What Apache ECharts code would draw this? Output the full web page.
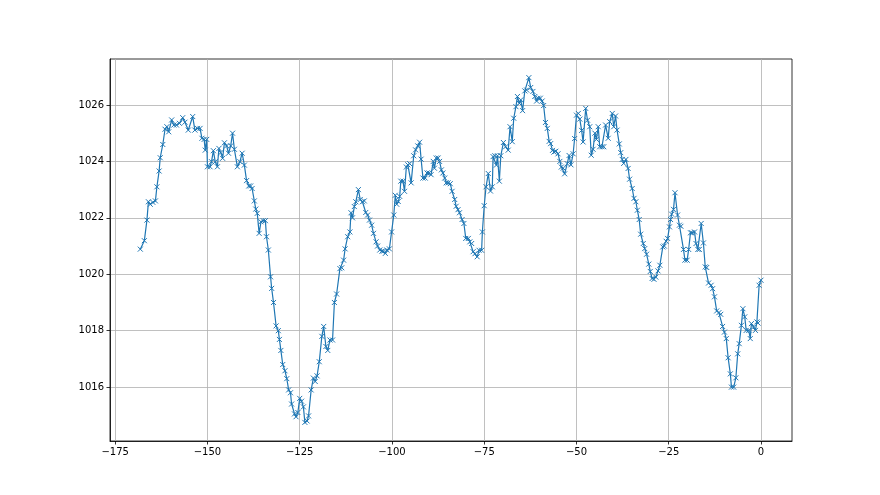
<!DOCTYPE html>
<html>
<head>
<meta charset="utf-8">
<script src="https://cdn.jsdelivr.net/npm/echarts@6/dist/echarts.min.js"></script>
<style>html,body{margin:0;padding:0;background:#fff;}#c{width:880px;height:495px;}</style>
</head>
<body>
<div id="c"></div>
<script>
const xs = [-168.2,-167.1,-166.4,-166.0,-165.5,-164.8,-164.1,-163.7,-163.1,-162.8,-162.1,-161.5,-161.0,-160.5,-159.7,-159.1,-158.4,-157.6,-156.7,-156.1,-155.2,-154.0,-153.4,-152.7,-152.0,-151.5,-150.9,-150.6,-150.2,-150.0,
-149.3,-148.9,-148.4,-147.9,-147.3,-146.9,-146.4,-145.9,-145.4,-144.8,-144.3,-143.7,-143.2,-142.7,-141.9,-141.2,-140.6,-140.0,-139.4,-138.8,-138.3,-137.9,-137.3,-136.9,-136.5,-136.0,-135.5,-134.9,-134.3,-134.0,-133.5,-132.9,
-132.6,-132.1,-131.4,-130.8,-130.5,-130.1,-129.6,-129.0,-128.5,-128.0,-127.5,-127.2,-126.4,-126.0,-125.5,-125.0,-124.5,-124.0,-123.6,-123.0,-122.6,-121.9,-121.3,-120.8,-120.3,-119.7,-119.0,-118.5,-117.9,-117.4,-116.8,-116.1,
-115.6,-115.0,-114.1,-113.6,-113.1,-112.7,-112.0,-111.4,-111.1,-110.7,-110.2,-109.8,-109.1,-108.6,-108.0,-107.5,-107.1,-106.6,-106.1,-105.5,-105.0,-104.3,-103.9,-103.3,-102.7,-102.3,-101.8,-101.4,-100.7,-100.1,-99.5,
-99.1,-98.7,-98.3,-97.9,-97.6,-97.0,-96.6,-96.1,-95.7,-95.2,-94.8,-94.1,-93.6,-93.0,-92.5,-92.1,-91.6,-91.0,-90.5,-90.0,-89.4,-88.8,-88.5,-88.0,-87.5,-87.1,-86.6,-86.2,-85.7,-85.3,-84.8,-84.2,-83.7,-83.0,-82.6,-82.1,-81.7,-81.0,
-80.5,-80.0,-79.3,-78.9,-78.4,-78.0,-77.5,-76.9,-76.4,-75.7,-75.5,-75.0,-74.5,-73.9,-73.3,-72.8,-72.6,-72.1,-71.7,-71.4,-70.9,-70.5,-69.8,-69.2,-68.5,-68.0,-67.4,-67.0,-66.4,-66.0,-65.5,-65.1,-64.6,-64.0,-63.5,-62.9,-62.4,
-61.8,-61.3,-60.8,-60.4,-59.8,-59.3,-58.9,-58.4,-57.9,-57.4,-57.0,-56.5,-56.1,-55.6,-55.0,-54.5,-54.1,-53.6,-53.2,-52.5,-52.0,-51.5,-50.9,-50.5,-50.0,-49.5,-49.1,-48.6,-48.2,-47.5,-47.0,-46.4,-46.0,-45.5,-45.0,-44.6,-44.1,
-43.7,-43.1,-42.6,-42.1,-41.4,-41.0,-40.3,-39.9,-39.4,-39.0,-38.4,-38.0,-37.6,-37.2,-36.6,-36.0,-35.6,-34.9,-34.4,-33.9,-33.5,-33.0,-32.6,-31.9,-31.5,-31.0,-30.4,-30.0,-29.5,-29.0,-28.5,-27.9,-27.4,-26.6,-26.2,-25.7,-25.3,
-24.8,-24.5,-24.2,-23.7,-23.3,-22.6,-22.1,-21.7,-21.0,-20.6,-20.0,-19.6,-19.1,-18.7,-18.0,-17.6,-17.1,-16.7,-16.2,-15.6,-15.1,-14.7,-14.2,-13.5,-13.1,-12.6,-12.0,-11.4,-10.9,-10.4,-9.9,-9.4,-8.9,-8.3,-8.0,-7.4,-6.8,-6.3,
-5.9,-5.3,-4.9,-4.4,-4.0,-3.3,-2.9,-2.6,-2.0,-1.5,-1.1,-0.8,-0.5,0.0];
const pressure = [1020.89,1021.19,1021.92,1022.57,1022.48,1022.55,1022.60,1023.10,1023.66,1024.13,1024.60,1025.14,1025.23,1025.05,1025.47,1025.29,1025.29,1025.35,1025.55,1025.39,1025.11,1025.59,1025.11,1025.17,1025.17,1024.82,1024.78,1024.40,1024.78,1023.81,
1023.81,1023.99,1024.38,1023.99,1023.81,1024.46,1024.31,1024.11,1024.66,1024.55,1024.29,1024.55,1025.00,1024.43,1023.81,1023.99,1024.29,1023.87,1023.32,1023.13,1023.13,1023.04,1022.60,1022.31,1022.16,1021.45,1021.86,1021.90,1021.90,1021.33,1020.86,1019.91,
1019.50,1019.00,1018.17,1018.00,1017.69,1017.30,1016.80,1016.58,1016.30,1015.90,1015.80,1015.40,1015.05,1014.95,1015.10,1015.60,1015.50,1015.30,1014.75,1014.80,1014.98,1015.90,1016.32,1016.20,1016.40,1016.90,1017.80,1018.15,1017.44,1017.30,1017.67,1017.67,
1019.00,1019.30,1020.20,1020.23,1020.50,1020.90,1021.33,1021.50,1022.18,1022.00,1022.40,1022.57,1023.00,1022.65,1022.57,1022.60,1022.19,1022.10,1021.92,1021.74,1021.45,1021.15,1021.00,1020.86,1020.82,1020.82,1020.74,1020.86,1020.90,1021.50,1022.10,
1022.80,1022.48,1022.58,1022.76,1023.30,1023.30,1022.94,1023.80,1023.88,1023.92,1023.24,1024.20,1024.41,1024.55,1024.68,1024.08,1023.41,1023.41,1023.59,1023.59,1023.53,1024.00,1023.76,1024.12,1024.12,1024.00,1023.70,1023.59,1023.41,1023.24,1023.24,1023.21,1022.94,1022.65,1022.41,1022.29,1022.18,1021.94,
1021.80,1021.27,1021.27,1021.15,1021.09,1020.80,1020.73,1020.62,1020.85,1020.85,1021.50,1022.43,1023.10,1023.57,1022.95,1023.10,1024.17,1024.20,1023.87,1024.20,1023.30,1024.20,1024.67,1024.52,1024.40,1025.23,1024.70,1025.53,1025.94,1026.30,1026.06,1026.18,1025.80,1026.50,1026.53,1026.97,1026.62,
1026.48,1026.30,1026.14,1026.24,1026.24,1026.14,1025.98,1025.38,1025.17,1024.71,1024.63,1024.39,1024.33,1024.36,1024.27,1024.00,1023.80,1023.76,1023.56,1023.92,1024.21,1023.88,1024.27,1024.81,1025.64,1025.70,1025.50,1025.10,1024.69,1025.88,1025.46,1025.23,1024.22,1024.43,1025.00,1024.78,1025.23,
1024.52,1024.52,1024.52,1025.29,1024.82,1025.41,1025.70,1025.23,1025.61,1025.11,1024.62,1024.31,1024.07,1023.93,1024.07,1023.75,1023.37,1023.04,1022.69,1022.57,1022.27,1021.94,1021.42,1021.09,1020.91,1020.71,1020.36,1020.10,1019.85,1019.82,1019.90,1020.12,1020.32,1020.97,1021.00,1021.17,1021.27,
1021.68,1021.94,1022.13,1022.30,1022.89,1022.10,1021.74,1021.70,1020.88,1020.50,1020.50,1020.88,1021.47,1021.47,1021.50,1021.09,1020.88,1020.88,1021.80,1021.11,1020.26,1020.24,1019.69,1019.61,1019.49,1019.20,1018.70,1018.64,1018.58,1018.15,1017.95,1017.72,1017.04,1016.47,1016.00,1016.00,1016.33,1017.18,
1017.54,1018.19,1018.78,1018.49,1018.01,1018.01,1017.72,1018.25,1018.13,1018.01,1018.31,1018.27,1019.61,1019.79];
const xTicks = [-175,-150,-125,-100,-75,-50,-25,0];
const yTicks = [1016,1018,1020,1022,1024,1026];

const data = xs.map((x, i) => [x, pressure[i]]);
const chart = echarts.init(document.getElementById('c'), null, {renderer: 'canvas'});
const font = 'DejaVu Sans';
chart.setOption({
  animation: false,
  backgroundColor: '#ffffff',
  grid: {left: 110, right: 88, top: 59, bottom: 54, show: true, borderColor: '#000', borderWidth: 0.8, backgroundColor: '#fff'},
  xAxis: {
    type: 'value', min: -176.41, max: 8.41,
    axisLine: {show: true, onZero: false, lineStyle: {color: '#000', width: 0.8}},
    axisTick: {show: true, inside: false, length: 3.5, lineStyle: {color: '#000', width: 0.8}, customValues: xTicks},
    axisLabel: {customValues: xTicks, color: '#000', fontFamily: font, fontSize: 10, margin: 6,
      formatter: v => String(v).replace('-', '\u2212')},
    splitLine: {show: true, lineStyle: {color: '#b0b0b0', width: 0.8}}
  },
  yAxis: {
    type: 'value', min: 1014.09, max: 1027.63,
    axisLine: {show: true, onZero: false, lineStyle: {color: '#000', width: 0.8}},
    axisTick: {show: true, inside: false, length: 3.5, lineStyle: {color: '#000', width: 0.8}, customValues: yTicks},
    axisLabel: {customValues: yTicks, color: '#000', fontFamily: font, fontSize: 10, margin: 6,
      formatter: v => String(v)},
    splitLine: {show: true, lineStyle: {color: '#b0b0b0', width: 0.8}}
  },
  series: [{
    type: 'line',
    data: data,
    symbol: 'path://M0,0L10,10M10,0L0,10',
    symbolSize: 5,
    showAllSymbol: true,
    lineStyle: {color: '#1f77b4', width: 1.2},
    itemStyle: {color: 'rgba(0,0,0,0)', borderColor: '#1f77b4', borderWidth: 1}
  }]
});
</script>
</body>
</html>
